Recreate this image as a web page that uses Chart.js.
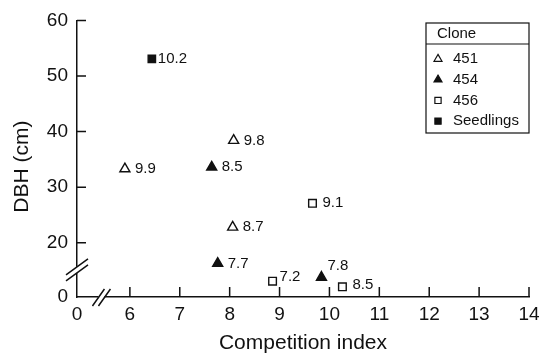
<!DOCTYPE html>
<html>
<head>
<meta charset="utf-8">
<script src="https://cdn.jsdelivr.net/npm/chart.js@4.4.3/dist/chart.umd.min.js"></script>
<style>
	html, body { margin: 0; padding: 0; background: #fff; }
</style>
</head>
<body>
<canvas id="chart" width="559" height="358"></canvas>
<script>
(function () {
	'use strict';

	// Tick labels. Both axes are broken, so "0" sits just below the first real tick.
	var xTicks = [0, 6, 7, 8, 9, 10, 11, 12, 13, 14];
	var yTicks = [0, 20, 30, 40, 50, 60];
	var X_ZERO = 4.94;   // axis value where the x "0" is drawn
	var Y_ZERO = 10.26;  // axis value where the y "0" is drawn

	// Clone 451 (open triangles).
	var c451X = [5.9, 8.08, 8.06];
	var c451Y = [33.3, 38.4, 22.8];
	var c451Lbl = ['9.9', '9.8', '8.7'];

	// Clone 454 (filled triangles).
	var c454X = [7.64, 7.76, 9.84];
	var c454Y = [33.6, 16.3, 13.8];
	var c454Lbl = ['8.5', '7.7', '7.8'];

	// Clone 456 (open squares).
	var c456X = [9.66, 8.86, 10.26];
	var c456Y = [27.1, 13.1, 12.1];
	var c456Lbl = ['9.1', '7.2', '8.5'];

	// Seedlings (filled square).
	var seedX = [6.44];
	var seedY = [53.1];
	var seedLbl = ['10.2'];

	var FONT = '"Liberation Sans", Arial, Helvetica, sans-serif';
	var INK = '#111';

	function pts(xs, ys) {
		return xs.map(function (x, i) { return { x: x, y: ys[i] }; });
	}

	function series(name, xs, ys, lbls, style, filled, radius) {
		return {
			label: name,
			data: pts(xs, ys),
			pointLabels: lbls,
			showLine: false,
			pointStyle: style,
			pointRadius: radius,
			pointHoverRadius: radius,
			pointBorderWidth: 1.4,
			borderColor: INK,
			backgroundColor: filled ? INK : '#fff',
		};
	}

	var datasets = [
		series('451', c451X, c451Y, c451Lbl, 'triangle', false, 5.8),
		series('454', c454X, c454Y, c454Lbl, 'triangle', true, 5.8),
		series('456', c456X, c456Y, c456Lbl, 'rect', false, 5.4),
		series('Seedlings', seedX, seedY, seedLbl, 'rect', true, 5.2),
	];

	// Small nudges for labels that are not simply to the right of the mark.
	var labelNudge = {
		'1-2': { dx: 6, dy: -11 },
		'2-1': { dx: 7, dy: -4 },
		'2-2': { dx: 10, dy: -2 },
		'3-0': { dx: 6, dy: 0 },
	};

	// =========================================================
	// Decorations: inward ticks, axis breaks, point labels, legend
	// =========================================================

	var decor = {
		id: 'decor',
		afterDatasetsDraw: function (chart) {
			var ctx = chart.ctx;
			ctx.save();
			ctx.fillStyle = INK;
			ctx.font = '15px ' + FONT;
			ctx.textBaseline = 'middle';
			ctx.textAlign = 'left';
			chart.data.datasets.forEach(function (ds, di) {
				var meta = chart.getDatasetMeta(di);
				meta.data.forEach(function (el, i) {
					var n = labelNudge[di + '-' + i] || { dx: 10, dy: 0 };
					ctx.fillText(ds.pointLabels[i], el.x + n.dx, el.y + n.dy);
				});
			});
			ctx.restore();
		},
		afterDraw: function (chart) {
			var ctx = chart.ctx;
			var xs = chart.scales.x, ys = chart.scales.y;
			var a = chart.chartArea;
			ctx.save();
			ctx.strokeStyle = INK;
			ctx.lineWidth = 1.5;

			// Inward tick marks.
			ctx.beginPath();
			xTicks.forEach(function (v) {
				if (v === 0) return;
				var px = xs.getPixelForValue(v);
				ctx.moveTo(px, a.bottom);
				ctx.lineTo(px, a.bottom - 10);
			});
			yTicks.forEach(function (v) {
				if (v === 0) return;
				var py = ys.getPixelForValue(v);
				ctx.moveTo(a.left, py);
				ctx.lineTo(a.left + 9, py);
			});
			ctx.stroke();

			// Axis breaks.
			var by = (ys.getPixelForValue(20) + a.bottom) / 2;
			var bx = (xs.getPixelForValue(6) + a.left) / 2 - 2;
			ctx.fillStyle = '#fff';
			ctx.fillRect(a.left - 2, by - 3, 4, 6);
			ctx.fillRect(bx - 3, a.bottom - 2, 6, 4);
			ctx.beginPath();
			[-3, 3].forEach(function (o) {
				ctx.moveTo(a.left - 11, by + o + 8);
				ctx.lineTo(a.left + 11, by + o - 8);
				ctx.moveTo(bx + o - 6, a.bottom + 9);
				ctx.lineTo(bx + o + 6, a.bottom - 8);
			});
			ctx.stroke();

			// Y axis title.
			ctx.save();
			ctx.fillStyle = INK;
			ctx.font = '21px ' + FONT;
			ctx.textAlign = 'center';
			ctx.textBaseline = 'middle';
			ctx.translate(22, (a.top + a.bottom) / 2 + 8);
			ctx.rotate(-Math.PI / 2);
			ctx.fillText('DBH (cm)', 0, 0);
			ctx.restore();

			// Legend box.
			var lx = 426, ly = 23, lw = 103, lh = 110;
			ctx.lineWidth = 1.2;
			ctx.strokeRect(lx, ly, lw, lh);
			ctx.beginPath();
			ctx.moveTo(lx, ly + 21);
			ctx.lineTo(lx + lw, ly + 21);
			ctx.stroke();
			ctx.fillStyle = INK;
			ctx.font = '15px ' + FONT;
			ctx.textBaseline = 'middle';
			ctx.textAlign = 'left';
			ctx.fillText('Clone', lx + 11, ly + 11);
			chart.data.datasets.forEach(function (ds, di) {
				var iy = ly + 36 + di * 20.7;
				ctx.fillStyle = ds.backgroundColor;
				ctx.strokeStyle = ds.borderColor;
				ctx.lineWidth = 1.2;
				Chart.helpers.drawPoint(ctx, {
					pointStyle: ds.pointStyle,
					radius: ds.pointStyle === 'triangle' ? 4.6 : 4.4,
					borderWidth: 1.2,
					rotation: 0,
				}, lx + 12, iy);
				ctx.fillStyle = INK;
				ctx.fillText(ds.label, lx + 27, iy);
			});
			ctx.restore();
		},
	};

	new Chart(document.getElementById('chart'), {
		type: 'scatter',
		data: { datasets: datasets },
		plugins: [decor],
		options: {
			responsive: false,
			animation: false,
			devicePixelRatio: 1,
			layout: { padding: { top: 16, right: 30, left: 0, bottom: 0 } },
			plugins: {
				legend: { display: false },
				tooltip: { enabled: false },
			},
			scales: {
				x: {
					type: 'linear',
					min: X_ZERO,
					max: 14,
					afterBuildTicks: function (scale) {
						scale.ticks = xTicks.map(function (v) { return { value: v === 0 ? X_ZERO : v }; });
					},
					afterFit: function (scale) { scale.height = 61; },
					grid: { display: false, drawTicks: false },
					border: { display: true, color: INK, width: 1.5 },
					ticks: {
						color: INK,
						padding: 6,
						maxRotation: 0,
						autoSkip: false,
						font: { family: FONT, size: 19 },
						callback: function (v) { return v === X_ZERO ? '0' : v; },
					},
					title: {
						display: true,
						text: 'Competition index',
						color: INK,
						font: { family: FONT, size: 21 },
						padding: { top: 0, bottom: 2 },
					},
				},
				y: {
					type: 'linear',
					min: Y_ZERO,
					max: 60,
					afterBuildTicks: function (scale) {
						scale.ticks = yTicks.map(function (v) { return { value: v === 0 ? Y_ZERO : v }; });
					},
					afterFit: function (scale) { scale.width = 77; },
					grid: { display: false, drawTicks: false },
					border: { display: true, color: INK, width: 1.5 },
					ticks: {
						color: INK,
						padding: 9,
						autoSkip: false,
						font: { family: FONT, size: 19 },
						callback: function (v) { return v === Y_ZERO ? '0' : v; },
					},
				},
			},
		},
	});
})();
</script>
</body>
</html>
